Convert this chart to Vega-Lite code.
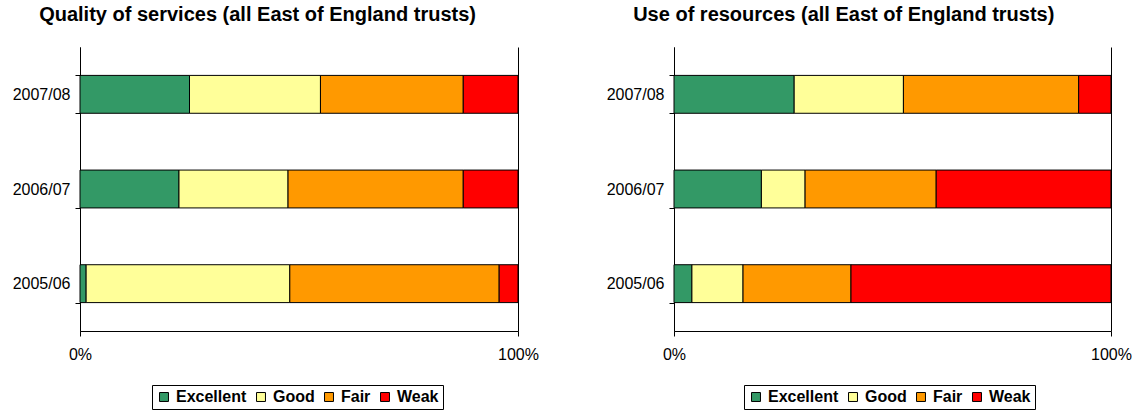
{
  "$schema": "https://vega.github.io/schema/vega-lite/v6.json",
  "background": "white",
  "padding": {"left": 12, "top": 5, "right": 0, "bottom": 0},
  "spacing": 67,
  "config": {
    "font": "Liberation Sans",
    "view": {"stroke": null},
    "title": {"fontSize": 20, "fontWeight": "bold", "anchor": "start", "color": "black", "offset": 14},
    "axis": {"domainColor": "black", "tickColor": "black", "labelColor": "black", "labelFontSize": 16, "labelFont": "Liberation Sans", "title": null},
    "legend": {"strokeColor": "black", "padding": 4, "labelFontSize": 16, "labelFontWeight": "bold", "labelColor": "black", "symbolType": "square", "symbolSize": 80, "symbolStrokeColor": "black", "symbolStrokeWidth": 1, "columnPadding": 6, "symbolOffset": 0, "title": null}
  },
  "datasets": {
    "quality": [
      {"year": "2007/08", "rating": "Excellent", "rank": 1, "pct": 25.0},
      {"year": "2007/08", "rating": "Good", "rank": 2, "pct": 29.9},
      {"year": "2007/08", "rating": "Fair", "rank": 3, "pct": 32.6},
      {"year": "2007/08", "rating": "Weak", "rank": 4, "pct": 12.5},
      {"year": "2006/07", "rating": "Excellent", "rank": 1, "pct": 22.6},
      {"year": "2006/07", "rating": "Good", "rank": 2, "pct": 24.9},
      {"year": "2006/07", "rating": "Fair", "rank": 3, "pct": 40.0},
      {"year": "2006/07", "rating": "Weak", "rank": 4, "pct": 12.5},
      {"year": "2005/06", "rating": "Excellent", "rank": 1, "pct": 1.4},
      {"year": "2005/06", "rating": "Good", "rank": 2, "pct": 46.5},
      {"year": "2005/06", "rating": "Fair", "rank": 3, "pct": 47.8},
      {"year": "2005/06", "rating": "Weak", "rank": 4, "pct": 4.3}
    ],
    "resources": [
      {"year": "2007/08", "rating": "Excellent", "rank": 1, "pct": 27.5},
      {"year": "2007/08", "rating": "Good", "rank": 2, "pct": 25.0},
      {"year": "2007/08", "rating": "Fair", "rank": 3, "pct": 40.1},
      {"year": "2007/08", "rating": "Weak", "rank": 4, "pct": 7.4},
      {"year": "2006/07", "rating": "Excellent", "rank": 1, "pct": 20.0},
      {"year": "2006/07", "rating": "Good", "rank": 2, "pct": 10.0},
      {"year": "2006/07", "rating": "Fair", "rank": 3, "pct": 30.0},
      {"year": "2006/07", "rating": "Weak", "rank": 4, "pct": 40.0},
      {"year": "2005/06", "rating": "Excellent", "rank": 1, "pct": 4.1},
      {"year": "2005/06", "rating": "Good", "rank": 2, "pct": 11.7},
      {"year": "2005/06", "rating": "Fair", "rank": 3, "pct": 24.7},
      {"year": "2005/06", "rating": "Weak", "rank": 4, "pct": 59.5}
    ]
  },
  "resolve": {"scale": {"color": "independent"}, "legend": {"color": "independent"}},
  "hconcat": [
    {
      "title": {"text": "Quality of services (all East of England trusts)", "dx": 27},
      "data": {"name": "quality"},
      "width": 438,
      "height": 284,
      "mark": {"type": "bar", "stroke": "black", "strokeWidth": 1},
      "encoding": {
        "y": {"field": "year", "type": "nominal", "sort": "descending", "scale": {"paddingInner": 0.6, "paddingOuter": 0.3}, "axis": {"tickBand": "extent", "labelPadding": 5, "tickSize": 5}},
        "x": {"field": "pct", "type": "quantitative", "stack": "normalize", "scale": {"domain": [0, 1], "nice": false}, "axis": {"values": [0, 1], "format": "%", "labelFlush": false, "grid": true, "gridColor": "black", "gridOpacity": 1, "tickSize": 5, "labelPadding": 10}},
        "color": {"field": "rating", "type": "nominal", "scale": {"domain": ["Excellent", "Good", "Fair", "Weak"], "range": ["#339966", "#FFFF99", "#FF9900", "#FF0000"]}, "legend": {"orient": "none", "direction": "horizontal", "legendX": 72, "legendY": 338}},
        "order": {"field": "rank", "type": "quantitative"}
      }
    },
    {
      "title": {"text": "Use of resources (all East of England trusts)", "dx": 27},
      "data": {"name": "resources"},
      "width": 437,
      "height": 284,
      "mark": {"type": "bar", "stroke": "black", "strokeWidth": 1},
      "encoding": {
        "y": {"field": "year", "type": "nominal", "sort": "descending", "scale": {"paddingInner": 0.6, "paddingOuter": 0.3}, "axis": {"tickBand": "extent", "labelPadding": 5, "tickSize": 5}},
        "x": {"field": "pct", "type": "quantitative", "stack": "normalize", "scale": {"domain": [0, 1], "nice": false}, "axis": {"values": [0, 1], "format": "%", "labelFlush": false, "grid": true, "gridColor": "black", "gridOpacity": 1, "tickSize": 5, "labelPadding": 10}},
        "color": {"field": "rating", "type": "nominal", "scale": {"domain": ["Excellent", "Good", "Fair", "Weak"], "range": ["#339966", "#FFFF99", "#FF9900", "#FF0000"]}, "legend": {"orient": "none", "direction": "horizontal", "legendX": 70, "legendY": 338}},
        "order": {"field": "rank", "type": "quantitative"}
      }
    }
  ]
}
